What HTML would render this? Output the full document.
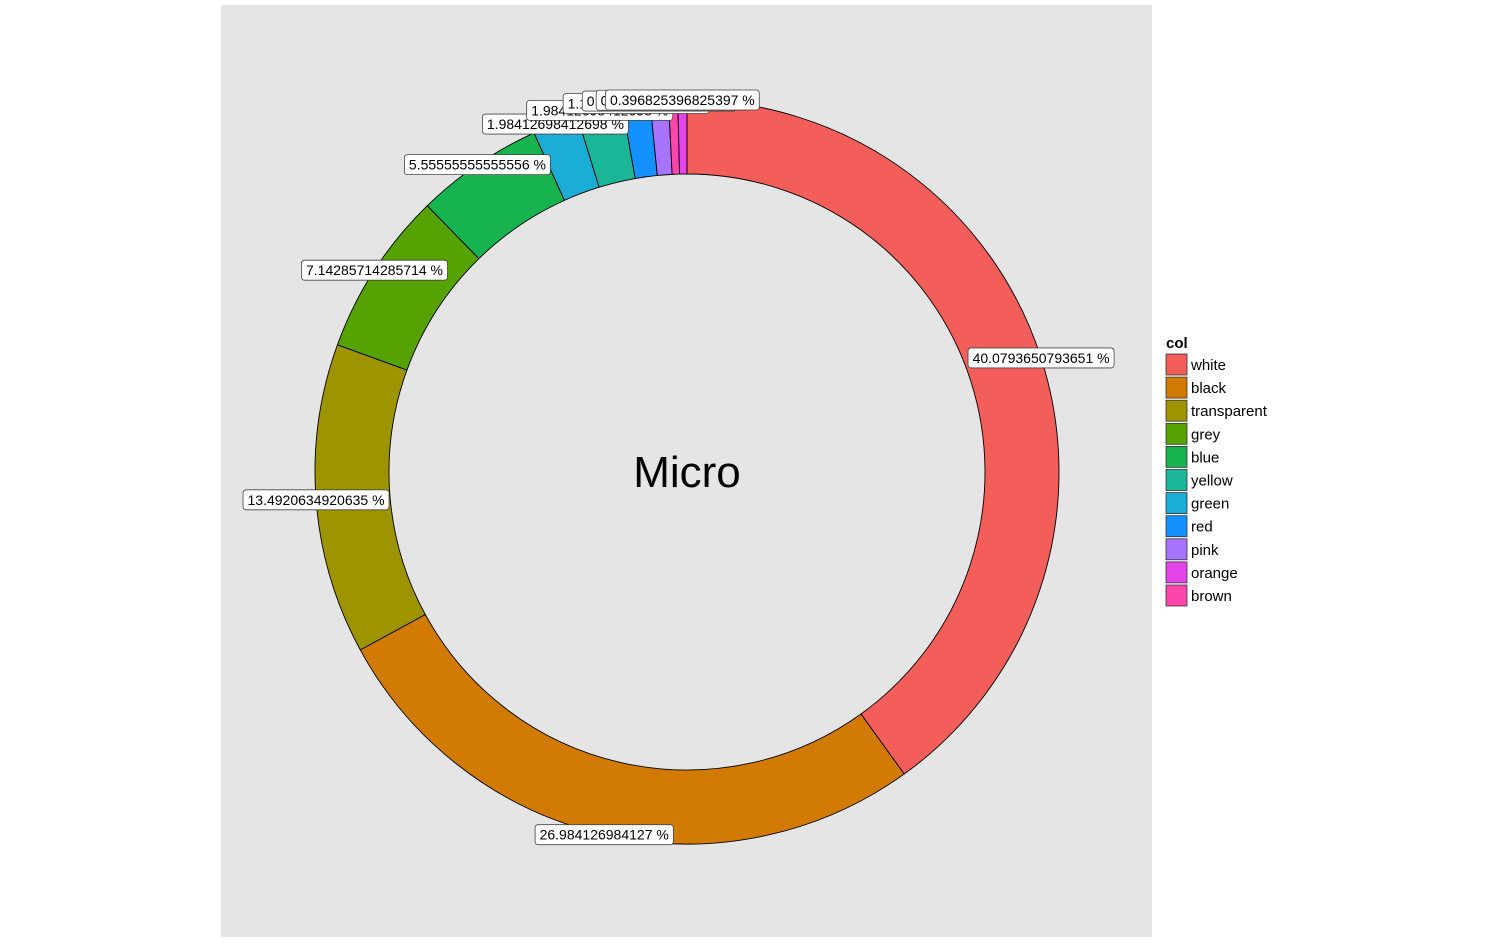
<!DOCTYPE html>
<html><head><meta charset="utf-8"><style>
html,body{margin:0;padding:0;background:#fff;}
svg{display:block;font-family:"Liberation Sans",Arial,sans-serif;}
</style></head><body>
<svg id="s" width="1498" height="945" xmlns="http://www.w3.org/2000/svg">
<rect x="221" y="5" width="931" height="932" fill="#e5e5e5"/>
<g id="segs"></g>
<text x="687" y="487" font-size="44" text-anchor="middle" fill="#000">Micro</text>
<g id="labs"></g>
<g id="leg"></g>
</svg>
<script>
var cx=687,cy=472,R=372,r=298;
var data=[
["white",101,"#F35E5A","40.0793650793651 %"],
["black",68,"#D17B05","26.984126984127 %"],
["transparent",34,"#9E9400","13.4920634920635 %"],
["grey",18,"#56A200","7.14285714285714 %"],
["blue",14,"#17B34F","5.55555555555556 %"],
["green",5,"#1AADD6","1.98412698412698 %"],
["yellow",5,"#1BB598","1.98412698412698 %"],
["red",3,"#1491FF","1.19047619047619 %"],
["pink",2,"#A674FF","0.793650793650794 %"],
["brown",1,"#FC46AB","0.396825396825397 %"],
["orange",1,"#E445E9","0.396825396825397 %"]];
var legend=[["white","#F35E5A"],["black","#D17B05"],["transparent","#9E9400"],["grey","#56A200"],["blue","#17B34F"],["yellow","#1BB598"],["green","#1AADD6"],["red","#1491FF"],["pink","#A674FF"],["orange","#E445E9"],["brown","#FC46AB"]];
var NS="http://www.w3.org/2000/svg";
function el(t,a,p){var e=document.createElementNS(NS,t);for(var k in a)e.setAttribute(k,a[k]);p.appendChild(e);return e;}
function pt(rad,f){var a=f*2*Math.PI;return [cx+rad*Math.sin(a),cy-rad*Math.cos(a)];}
var segs=document.getElementById("segs"),labs=document.getElementById("labs"),leg=document.getElementById("leg");
var cum=0;
data.forEach(function(d){
 var f0=cum/252,f1=(cum+d[1])/252;cum+=d[1];
 var la=(f1-f0)>0.5?1:0;
 var a=pt(R,f0),b=pt(R,f1),c=pt(r,f1),e=pt(r,f0);
 el("path",{d:"M"+a+" A"+R+","+R+" 0 "+la+" 1 "+b+" L"+c+" A"+r+","+r+" 0 "+la+" 0 "+e+" Z",fill:d[2],stroke:"#000","stroke-width":"0.9"},segs);
});
cum=0;
data.forEach(function(d){
 var fm=(cum+d[1]/2)/252;cum+=d[1];
 var p=pt(R,fm);
 var g=el("g",{},labs);
 var rect=el("rect",{y:p[1]-10,height:20,rx:3,fill:"#fff",stroke:"#444","stroke-width":"0.8"},g);
 var t=el("text",{x:p[0],y:p[1]+5,"font-size":"14","text-anchor":"middle",fill:"#000"},g);
 t.textContent=d[3];
 var w=t.getComputedTextLength()+9;
 rect.setAttribute("x",p[0]-w/2);rect.setAttribute("width",w);
});
var tt=el("text",{x:1166,y:348,"font-size":"15","font-weight":"bold"},leg);tt.textContent="col";
legend.forEach(function(d,i){
 var y=354+i*23.1;
 el("rect",{x:1166,y:y,width:21,height:21,fill:d[1],stroke:"#333","stroke-width":"0.8"},leg);
 var t=el("text",{x:1191,y:y+16,"font-size":"15"},leg);t.textContent=d[0];
});
</script>
</body></html>
